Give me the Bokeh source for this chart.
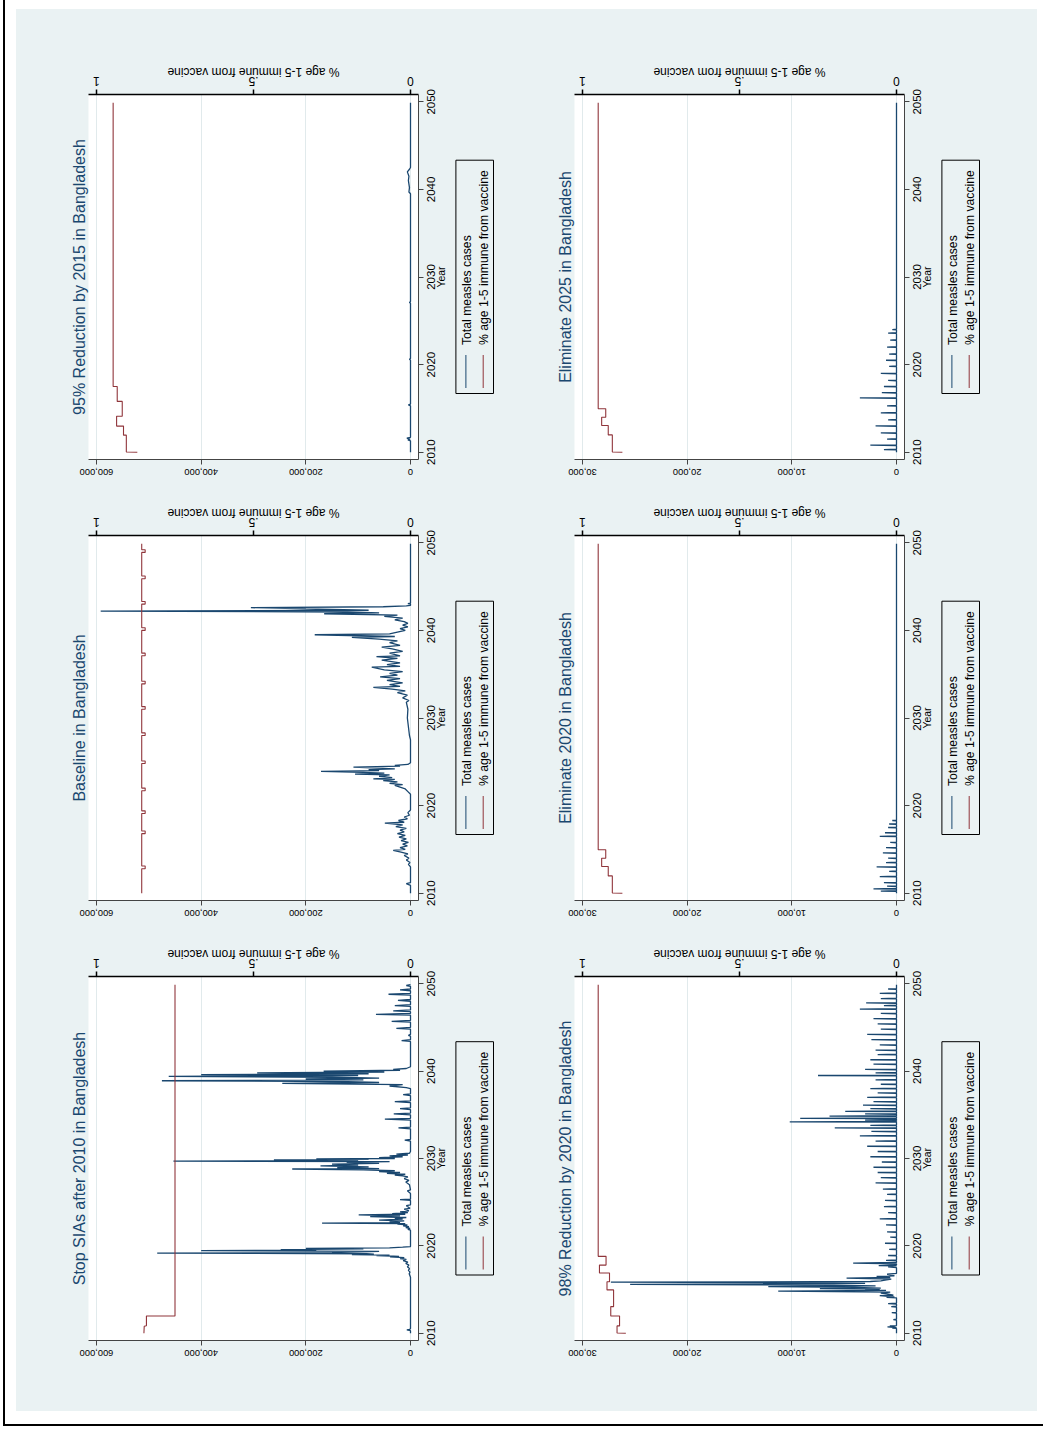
from math import pi
from bokeh.plotting import figure
from bokeh.models import Range1d, LinearAxis, FixedTicker, Spacer
from bokeh.layouts import row, column
from bokeh.core.properties import value
from bokeh.embed import file_html
from bokeh.resources import INLINE

FONT = "Liberation Sans"
BLUE = "#1A476F"
RED = "#90353B"
BG = "#EAF2F3"
GRID = "#E1EAEC"
AXC = "#444444"

YEAR_TICKS = [2010, 2020, 2030, 2040, 2050]
CASE_TICKS_BIG = [0, 200000, 400000, 600000]
CASE_TICKS_SMALL = [0, 10000, 20000, 30000]
IMM_TICKS = [0, 0.5, 1]
IMM_TICK_TEXT = ["0", ".5", "1"]
IMM_TITLE = "% age 1-5 immune from vaccine"
YEAR_TITLE = "Year"
LEGEND_LABELS = ["Total measles cases", "% age 1-5 immune from vaccine"]

# ---------------- Stop SIAs after 2010 ----------------
stop_yr = [2010.0, 2010.3, 2010.38, 2010.45, 2010.55, 2016.4, 2016.8, 2017.0, 2017.2, 2017.4, 2017.6, 2017.8,
           2018.0, 2018.15, 2018.3, 2018.45, 2018.55, 2018.65, 2018.75, 2018.8, 2018.9, 2018.95, 2019.0, 2019.05,
           2019.1, 2019.18, 2019.22, 2019.3, 2019.38, 2019.45, 2019.5, 2019.58, 2019.65, 2019.72, 2019.78,
           2019.85, 2019.92, 2021.8, 2021.9, 2022.0, 2022.1, 2022.2, 2022.3, 2022.4, 2022.5, 2022.55, 2022.6,
           2022.65, 2022.75, 2022.85, 2022.95, 2023.05, 2023.15, 2023.25, 2023.35, 2023.45, 2023.55, 2023.62,
           2023.7, 2023.8, 2023.9, 2024.0, 2024.2, 2024.3, 2024.6, 2024.7, 2025.2, 2025.3, 2025.35, 2026.0,
           2026.3, 2026.4, 2027.0, 2027.3, 2027.5, 2027.7, 2027.9, 2028.0, 2028.1, 2028.2, 2028.3, 2028.4,
           2028.5, 2028.6, 2028.7, 2028.8, 2028.85, 2028.95, 2029.05, 2029.15, 2029.25, 2029.35, 2029.45,
           2029.55, 2029.65, 2029.7, 2029.75, 2029.85, 2029.9, 2029.95, 2030.0, 2030.1, 2030.2, 2030.3, 2030.4,
           2030.5, 2030.6, 2030.8, 2032.0, 2032.1, 2032.2, 2033.4, 2033.5, 2033.6, 2034.4, 2034.5, 2034.6,
           2035.0, 2035.1, 2035.2, 2035.6, 2035.7, 2035.8, 2036.4, 2036.5, 2036.6, 2037.2, 2037.3, 2037.4,
           2038.0, 2038.1, 2038.3, 2038.45, 2038.6, 2038.7, 2038.8, 2038.9, 2039.0, 2039.1, 2039.2, 2039.3,
           2039.4, 2039.5, 2039.6, 2039.7, 2039.8, 2039.9, 2040.0, 2040.1, 2040.2, 2040.3, 2040.5, 2043.4,
           2043.5, 2043.6, 2044.0, 2044.1, 2044.2, 2044.8, 2044.9, 2045.0, 2045.6, 2045.7, 2045.8, 2046.4,
           2046.5, 2046.6, 2046.8, 2046.9, 2047.0, 2047.4, 2047.5, 2047.6, 2048.0, 2048.1, 2048.2, 2048.7,
           2048.8, 2048.9, 2049.2, 2049.3, 2049.4, 2049.7, 2049.8, 2049.9]
stop_cases = [0, 0, 7000, 1500, 0, 0, 2500, 1000, 4000, 2000, 6000, 3000,
              9000, 5000, 14000, 8000, 20000, 12000, 39000, 22000, 65000, 40000, 112000, 70000,
              84000, 484000, 150000, 115000, 60000, 400000, 180000, 248000, 90000, 200000, 40000,
              15000, 0, 0, 5000, 1000, 9000, 3000, 14000, 6000, 25000, 10000, 169000,
              20000, 40000, 12000, 60000, 15000, 30000, 8000, 77000, 20000, 99000, 10000,
              35000, 5000, 20000, 3000, 12000, 1000, 8000, 0, 0, 20000, 0, 0,
              6000, 0, 2000, 9000, 3000, 12000, 5000, 15000, 30000, 10000, 45000, 20000,
              60000, 30000, 90000, 226000, 60000, 140000, 80000, 172000, 100000, 150000, 60000,
              122000, 40000, 453000, 100000, 261000, 80000, 180000, 30000, 60000, 15000, 40000, 5000,
              27000, 2000, 0, 0, 11000, 0, 0, 23000, 0, 0, 49000, 0,
              0, 32000, 0, 0, 20000, 0, 0, 30000, 0, 0, 14000, 0,
              0, 8000, 40000, 15000, 245000, 60000, 120000, 475000, 90000, 200000, 60000, 150000,
              462000, 100000, 400000, 80000, 293000, 50000, 166000, 20000, 33000, 8000, 0, 0,
              17000, 0, 0, 4000, 0, 0, 27000, 0, 0, 36000, 0, 0,
              66000, 0, 0, 33000, 0, 0, 30000, 0, 0, 24000, 0, 0,
              42000, 0, 0, 20000, 0, 0, 8000, 0]
stop_imm_yr = [2010.0, 2010.8, 2010.85, 2011.98, 2011.98, 2049.9]
stop_imm = [0.849, 0.848, 0.841, 0.841, 0.750, 0.750]

# ---------------- Baseline ----------------
base_yr = [2010.0, 2010.9, 2011.1, 2011.2, 2013.0, 2013.3, 2013.5, 2013.8, 2014.0, 2014.3, 2014.5, 2014.7,
           2014.9, 2015.0, 2015.2, 2015.4, 2015.6, 2015.8, 2016.0, 2016.2, 2016.4, 2016.6, 2016.8, 2017.0,
           2017.2, 2017.4, 2017.6, 2017.8, 2018.0, 2018.1, 2018.3, 2018.5, 2018.7, 2018.9, 2019.2, 2019.5,
           2021.3, 2021.6, 2021.9, 2022.1, 2022.3, 2022.4, 2022.55, 2022.7, 2022.85, 2023.0, 2023.05, 2023.2,
           2023.35, 2023.5, 2023.6, 2023.7, 2023.8, 2023.9, 2024.0, 2024.1, 2024.2, 2024.4, 2024.5, 2024.6,
           2024.7, 2024.9, 2027.5, 2028.0, 2029.0, 2030.0, 2031.0, 2031.8, 2032.0, 2032.3, 2032.6, 2032.9,
           2033.1, 2033.3, 2033.5, 2033.6, 2033.8, 2034.0, 2034.3, 2034.5, 2034.7, 2034.9, 2035.1, 2035.3,
           2035.5, 2035.8, 2035.9, 2036.1, 2036.3, 2036.6, 2036.8, 2037.0, 2037.1, 2037.4, 2037.6, 2037.9,
           2038.1, 2038.3, 2038.6, 2038.8, 2039.0, 2039.2, 2039.3, 2039.5, 2039.6, 2039.8, 2040.0, 2040.2,
           2040.4, 2040.6, 2040.8, 2041.0, 2041.2, 2041.4, 2041.6, 2041.75, 2041.9, 2042.0, 2042.1, 2042.2,
           2042.3, 2042.45, 2042.6, 2042.7, 2042.8, 2042.85, 2043.0, 2043.05, 2043.1, 2049.9]
base_cases = [0, 0, 8000, 0, 0, 4000, 1000, 8000, 3000, 12000, 5000, 18000,
              33000, 10000, 20000, 6000, 15000, 4000, 18000, 8000, 22000, 10000, 25000, 12000,
              20000, 8000, 28000, 15000, 49000, 12000, 23000, 6000, 12000, 2000, 5000, 0,
              0, 5000, 10000, 20000, 30000, 15000, 40000, 25000, 52000, 30000, 71000, 35000,
              60000, 40000, 106000, 50000, 90000, 171000, 60000, 80000, 30000, 109000, 20000, 30000,
              5000, 0, 0, 2000, 4000, 6000, 5000, 8000, 3000, 15000, 6000, 25000,
              10000, 35000, 71000, 20000, 40000, 15000, 45000, 20000, 58000, 25000, 40000, 15000,
              50000, 74000, 20000, 45000, 20000, 55000, 25000, 65000, 20000, 40000, 15000, 35000,
              55000, 20000, 40000, 25000, 60000, 112000, 30000, 183000, 40000, 25000, 10000, 20000,
              5000, 15000, 5000, 12000, 30000, 15000, 50000, 25000, 165000, 60000, 120000, 592000,
              80000, 200000, 305000, 52000, 8000, 0, 0, 5000, 0, 0]
base_imm_yr = [2010.0, 2012.8, 2012.8, 2013.1, 2013.1, 2016.8, 2016.8, 2017.1, 2017.1, 2019.1, 2019.1,
               2019.4, 2019.4, 2021.7, 2021.7, 2022.0, 2022.0, 2024.8, 2024.8, 2025.1, 2025.1, 2028.0,
               2028.0, 2028.3, 2028.3, 2031.0, 2031.0, 2031.3, 2031.3, 2033.9, 2033.9, 2034.2, 2034.2,
               2037.1, 2037.1, 2037.4, 2037.4, 2040.0, 2040.0, 2040.3, 2040.3, 2043.0, 2043.0, 2043.3,
               2043.3, 2045.9, 2045.9, 2046.2, 2046.2, 2048.9, 2048.9, 2049.2, 2049.2, 2049.9]
base_imm = [0.856, 0.856, 0.845, 0.845, 0.856, 0.856, 0.845, 0.845, 0.856, 0.856, 0.845,
            0.845, 0.856, 0.856, 0.845, 0.845, 0.856, 0.856, 0.845, 0.845, 0.856, 0.856,
            0.845, 0.845, 0.856, 0.856, 0.845, 0.845, 0.856, 0.856, 0.845, 0.845, 0.856,
            0.856, 0.845, 0.845, 0.856, 0.856, 0.845, 0.845, 0.856, 0.856, 0.845, 0.845,
            0.856, 0.856, 0.845, 0.845, 0.856, 0.856, 0.845, 0.845, 0.856, 0.856]

# ---------------- 95% Reduction by 2015 ----------------
r95_yr = [2010.0, 2011.3, 2011.4, 2011.5, 2011.6, 2011.7, 2015.3, 2015.4, 2015.5, 2020.5, 2020.6, 2020.7,
          2027.0, 2027.1, 2027.2, 2039.5, 2039.7, 2040.2, 2041.0, 2041.5, 2042.0, 2042.3, 2042.5, 2049.9]
r95_cases = [0, 0, 5000, 1000, 7000, 0, 0, 4000, 0, 0, 2000, 0,
             0, 2000, 0, 0, 3000, 2000, 4000, 3000, 6000, 2000, 0, 0]
r95_imm_yr = [2010.0, 2010.02, 2011.95, 2011.95, 2012.98, 2012.98, 2014.1, 2014.1, 2015.8, 2015.8,
              2017.5, 2017.5, 2049.9]
r95_imm = [0.870, 0.905, 0.905, 0.914, 0.914, 0.936, 0.936, 0.918, 0.918, 0.934, 0.934, 0.947, 0.947]

# ---------------- 98% Reduction by 2020 ----------------
r98_yr = [2010.0, 2010.55, 2010.6, 2010.65, 2010.72, 2010.77, 2010.83, 2010.88, 2011.5, 2011.55, 2011.6,
          2012.3, 2012.35, 2012.4, 2013.0, 2013.05, 2013.1, 2013.35, 2013.4, 2013.45,
          2014.05, 2014.1, 2014.15, 2014.3, 2014.35, 2014.5, 2014.6, 2014.7, 2014.81, 2014.9, 2014.97,
          2015.04, 2015.1, 2015.17, 2015.25, 2015.34, 2015.42, 2015.5, 2015.6, 2015.7, 2015.77, 2015.84,
          2015.92, 2016.0, 2016.1, 2016.2, 2016.3, 2016.38, 2016.5, 2016.58, 2016.75, 2016.85,
          2017.5, 2017.6, 2017.7, 2017.75, 2017.82, 2017.95, 2018.02, 2018.1, 2018.3, 2018.35, 2018.4,
          2018.85, 2018.9, 2018.95,
          2019.56, 2019.6, 2019.64, 2020.26, 2020.3, 2020.34, 2020.96, 2021.0, 2021.04, 2021.56, 2021.6, 2021.64,
          2022.36, 2022.4, 2022.44, 2023.06, 2023.1, 2023.14, 2023.76, 2023.8, 2023.84, 2024.46, 2024.5, 2024.54,
          2025.16, 2025.2, 2025.24, 2025.86, 2025.9, 2025.94, 2026.46, 2026.5, 2026.54, 2027.16, 2027.2, 2027.24,
          2027.76, 2027.8, 2027.84, 2028.36, 2028.4, 2028.44, 2028.96, 2029.0, 2029.04, 2029.56, 2029.6, 2029.64,
          2030.16, 2030.2, 2030.24, 2030.76, 2030.8, 2030.84, 2031.36, 2031.4, 2031.44, 2031.96, 2032.0, 2032.04,
          2032.56, 2032.6, 2032.64, 2033.06, 2033.1, 2033.14, 2033.46, 2033.5, 2033.54, 2033.76, 2033.8, 2033.84,
          2034.16, 2034.2, 2034.24, 2034.36, 2034.4, 2034.44, 2034.56, 2034.6, 2034.64, 2034.81, 2034.85, 2034.89,
          2035.06, 2035.1, 2035.14, 2035.36, 2035.4, 2035.44, 2035.66, 2035.7, 2035.74, 2036.06, 2036.1, 2036.14,
          2036.46, 2036.5, 2036.54, 2036.96, 2037.0, 2037.04, 2037.46, 2037.5, 2037.54, 2037.96, 2038.0, 2038.04,
          2038.46, 2038.5, 2038.54, 2038.96, 2039.0, 2039.04, 2039.46, 2039.5, 2039.54, 2039.76, 2039.8, 2039.84,
          2040.16, 2040.2, 2040.24, 2040.76, 2040.8, 2040.84, 2041.26, 2041.3, 2041.34, 2041.86, 2041.9, 2041.94,
          2042.36, 2042.4, 2042.44, 2042.96, 2043.0, 2043.04, 2043.56, 2043.6, 2043.64, 2044.16, 2044.2, 2044.24,
          2044.76, 2044.8, 2044.84, 2045.36, 2045.4, 2045.44, 2045.96, 2046.0, 2046.04, 2046.56, 2046.6, 2046.64,
          2047.06, 2047.1, 2047.14, 2047.46, 2047.5, 2047.54, 2047.76, 2047.8, 2047.84, 2048.26, 2048.3, 2048.34,
          2048.86, 2048.9, 2048.94, 2049.36, 2049.4, 2049.44, 2049.9]
r98_cases = [0, 0, 400, 0, 860, 100, 640, 0, 0, 300, 0,
             0, 450, 0, 0, 500, 0, 0, 800, 0,
             0, 950, 200, 1600, 300, 900, 1500, 600, 11300, 1000, 3000,
             1600, 7320, 1500, 4000, 12250, 2000, 6000, 25450, 3000, 9000, 27290,
             2500, 1500, 950, 500, 4770, 600, 1900, 200, 900, 0,
             0, 800, 0, 1700, 0, 0, 4140, 0, 0, 1000, 0,
             0, 800, 0,
             0, 700, 0, 0, 1100, 0, 0, 600, 0, 0, 900, 0,
             0, 1000, 0, 0, 1600, 0, 0, 800, 0, 0, 1200, 0,
             0, 1100, 0, 0, 900, 0, 0, 1300, 0, 0, 2000, 0,
             0, 1500, 0, 0, 1800, 0, 0, 2200, 0, 0, 1400, 0,
             0, 2500, 0, 0, 1800, 0, 0, 2800, 0, 0, 2000, 0,
             0, 3500, 0, 0, 2400, 0, 0, 5900, 0, 0, 2500, 0,
             0, 10200, 0, 0, 3000, 0, 0, 9200, 0, 0, 6400, 0,
             0, 3000, 0, 0, 4900, 0, 0, 2500, 0, 0, 3200, 0,
             0, 2200, 0, 0, 2800, 0, 0, 1800, 0, 0, 2500, 0,
             0, 1500, 0, 0, 2000, 0, 0, 7500, 0, 0, 2000, 0,
             0, 3000, 0, 0, 2200, 0, 0, 2500, 0, 0, 1800, 0,
             0, 2000, 0, 0, 1600, 0, 0, 2400, 0, 0, 2800, 0,
             0, 1500, 0, 0, 1800, 0, 0, 2200, 0, 0, 1500, 0,
             0, 3500, 0, 0, 1200, 0, 0, 2900, 0, 0, 1500, 0,
             0, 1600, 0, 0, 800, 0, 0]
r98_imm_yr = [2010.0, 2010.03, 2010.84, 2010.84, 2011.98, 2011.98, 2013.05, 2013.05, 2014.96, 2014.96,
              2015.9, 2015.9, 2016.9, 2016.9, 2017.8, 2017.8, 2018.8, 2018.8, 2049.9]
r98_imm = [0.862, 0.890, 0.890, 0.882, 0.882, 0.910, 0.910, 0.901, 0.901, 0.922, 0.922, 0.914, 0.914,
           0.946, 0.946, 0.925, 0.925, 0.950, 0.950]

# ---------------- Eliminate 2020 ----------------
e20_yr = [2010.0, 2010.21, 2010.25, 2010.29, 2010.46, 2010.5, 2010.54, 2010.76, 2010.8, 2010.84,
          2011.16, 2011.2, 2011.24, 2011.86, 2011.9, 2011.94, 2012.46, 2012.5, 2012.54, 2012.96, 2013.0, 2013.04,
          2013.46, 2013.5, 2013.54, 2013.96, 2014.0, 2014.04, 2014.56, 2014.6, 2014.64, 2015.16, 2015.2, 2015.24,
          2015.76, 2015.8, 2015.84, 2016.46, 2016.5, 2016.54, 2016.86, 2016.9, 2016.94, 2017.46, 2017.5, 2017.54,
          2017.86, 2017.9, 2017.94, 2018.26, 2018.3, 2018.34, 2049.9]
e20_cases = [0, 0, 1500, 0, 0, 2200, 0, 0, 900, 0,
             0, 1200, 0, 0, 1600, 0, 0, 700, 0, 0, 1900, 0,
             0, 1000, 0, 0, 800, 0, 0, 1300, 0, 0, 1000, 0,
             0, 600, 0, 0, 1600, 0, 0, 1100, 0, 0, 800, 0,
             0, 700, 0, 0, 400, 0, 0]
e20_imm_yr = [2010.0, 2010.03, 2011.98, 2011.98, 2013.05, 2013.05, 2014.0, 2014.0, 2014.96, 2014.96,
              2049.9]
e20_imm = [0.873, 0.905, 0.905, 0.918, 0.918, 0.939, 0.939, 0.926, 0.926, 0.950, 0.950]

# ---------------- Eliminate 2025 ----------------
e25_yr = [2010.0, 2010.26, 2010.3, 2010.34, 2010.76, 2010.8, 2010.84, 2011.46, 2011.5, 2011.54,
          2012.16, 2012.2, 2012.24, 2012.96, 2013.0, 2013.04, 2013.66, 2013.7, 2013.74, 2014.46, 2014.5, 2014.54,
          2015.26, 2015.3, 2015.34, 2016.16, 2016.2, 2016.24, 2016.76, 2016.8, 2016.84, 2017.46, 2017.5, 2017.54,
          2018.16, 2018.2, 2018.24, 2018.96, 2019.0, 2019.04, 2019.76, 2019.8, 2019.84, 2020.46, 2020.5, 2020.54,
          2021.16, 2021.2, 2021.24, 2021.96, 2022.0, 2022.04, 2022.76, 2022.8, 2022.84, 2023.56, 2023.6, 2023.64,
          2023.96, 2024.0, 2024.04, 2049.9]
e25_cases = [0, 0, 1200, 0, 0, 2500, 0, 0, 900, 0,
             0, 1500, 0, 0, 2000, 0, 0, 800, 0, 0, 1500, 0,
             0, 900, 0, 0, 3500, 0, 0, 1400, 0, 0, 1200, 0,
             0, 800, 0, 0, 1500, 0, 0, 700, 0, 0, 1000, 0,
             0, 700, 0, 0, 900, 0, 0, 600, 0, 0, 800, 0,
             0, 400, 0, 0]
e25_imm_yr = [2010.0, 2010.03, 2011.98, 2011.98, 2013.05, 2013.05, 2014.0, 2014.0, 2014.96, 2014.96,
              2049.9]
e25_imm = [0.873, 0.905, 0.905, 0.918, 0.918, 0.939, 0.939, 0.926, 0.926, 0.950, 0.950]

AX = 6          # room kept on the plot for each axis' tick marks
YLO, YHI = 2009.17, 2050.83


def quiet_axis(ax, color, width):
    """Axis line and ticks drawn by Bokeh; the turned labels are drawn in the strips."""
    ax.axis_line_color = color
    ax.axis_line_width = width
    ax.major_tick_line_color = color
    ax.major_tick_line_width = width
    ax.major_tick_out = 5
    ax.major_tick_in = 0
    ax.minor_tick_line_color = None
    ax.major_label_text_color = None
    ax.major_label_text_font_size = "1px"
    ax.major_label_standoff = 0


def strip(width, height, x_range, y_range):
    f = figure(width=width, height=height, x_range=x_range, y_range=y_range,
               output_backend="svg", toolbar_location=None,
               x_axis_location=None, y_axis_location=None, min_border=0,
               min_border_left=0, min_border_right=0, min_border_top=0, min_border_bottom=0,
               background_fill_color=BG, border_fill_color=BG, outline_line_color=None,
               frame_align=False)
    f.xgrid.grid_line_color = None
    f.ygrid.grid_line_color = None
    return f


def txt(f, xs, ys, texts, angle, size, align="center", color="black"):
    f.text(x=xs, y=ys, text=texts, angle=angle, text_align=align, text_baseline="middle",
           text_font=value(FONT), text_font_size=value(size), text_color=color)


def make_panel(title, cyr, cval, iyr, ival, cticks, bl, fw, br, bt, fh, bb):
    cmax = cticks[-1]
    cpad = cmax * 8.0 / 314.0
    ipad = 8.0 / 314.0
    u = (cmax + 2 * cpad) / fw     # cases per pixel
    ui = (1 + 2 * ipad) / fw       # immunity share per pixel
    v = (YHI - YLO) / fh           # years per pixel
    W = bl + fw + AX

    main = figure(width=W, height=AX + fh + AX,
                  x_range=Range1d(cmax + cpad, -cpad), y_range=Range1d(YLO, YHI),
                  output_backend="svg", toolbar_location=None,
                  x_axis_location=None, y_axis_location=None,
                  min_border_left=bl, min_border_right=AX, min_border_top=AX, min_border_bottom=AX,
                  title=title, title_location="left", frame_align=False,
                  background_fill_color="white", border_fill_color=BG, outline_line_color=None)
    main.extra_x_ranges = {"imm": Range1d(1 + ipad, -ipad)}
    main.title.text_font = FONT
    main.title.text_font_size = "16px"
    main.title.text_font_style = "normal"
    main.title.text_color = BLUE
    main.title.align = "center"
    main.title.standoff = 1
    main.xgrid.ticker = FixedTicker(ticks=cticks)
    main.xgrid.grid_line_color = GRID
    main.ygrid.grid_line_color = None

    ca = LinearAxis(ticker=FixedTicker(ticks=cticks))
    quiet_axis(ca, AXC, 1)
    main.add_layout(ca, "below")
    ia = LinearAxis(x_range_name="imm", ticker=FixedTicker(ticks=IMM_TICKS))
    quiet_axis(ia, "black", 1.5)
    main.add_layout(ia, "above")
    ya = LinearAxis(ticker=FixedTicker(ticks=YEAR_TICKS))
    quiet_axis(ya, AXC, 1)
    main.add_layout(ya, "right")

    main.line(x=cval, y=cyr, line_color=BLUE, line_width=1.3)
    main.line(x=ival, y=iyr, x_range_name="imm", line_color=RED, line_width=1.1)

    # strip above: immunity tick labels and title (upside down)
    hT = bt - AX
    ftop = strip(W, hT, Range1d(1 + ipad + bl * ui, -ipad - AX * ui), Range1d(0, hT))
    txt(ftop, IMM_TICKS, [13.4 - AX] * 3, IMM_TICK_TEXT, pi, "12px")
    txt(ftop, [0.5], [23.0 - AX], [IMM_TITLE], pi, "12px")

    # strip below: case tick labels (upside down)
    hB = bb - AX
    fbot = strip(W, hB, Range1d(cmax + cpad + bl * u, -cpad - AX * u), Range1d(0, hB))
    txt(fbot, cticks, [hB - (12.6 - AX)] * len(cticks), [f"{t:,}" for t in cticks], pi, "9.3px")

    # strip right: year labels, axis title and legend (reading upward)
    wR = br - AX
    fr = strip(wR, bt + fh + bb, Range1d(0, wR), Range1d(YLO - bb * v, YHI + bt * v))
    txt(fr, [12.5 - AX] * len(YEAR_TICKS), YEAR_TICKS, [str(t) for t in YEAR_TICKS], pi / 2, "11.5px")
    txt(fr, [22.7 - AX], [(YLO + YHI) / 2], [YEAR_TITLE], pi / 2, "10.5px")
    yc = (YLO + YHI) / 2
    fr.quad(left=[37.4 - AX], right=[75.0 - AX], top=[yc + 116.8 * v], bottom=[yc - 116.5 * v],
            fill_alpha=0, line_color="black", line_width=1)
    fr.segment(x0=[47.4 - AX, 64.7 - AX], y0=[yc - 78 * v] * 2, x1=[47.4 - AX, 64.7 - AX],
               y1=[yc - 111 * v] * 2, line_color=[BLUE, RED], line_width=1)
    txt(fr, [48.4 - AX, 65.5 - AX], [yc - 68 * v] * 2, LEGEND_LABELS, pi / 2, "12.2px", align="left")

    return row(column(ftop, main, fbot), fr)


p95 = make_panel("95% Reduction by 2015 in Bangladesh", r95_yr, r95_cases, r95_imm_yr, r95_imm,
                 CASE_TICKS_BIG, 72, 330, 84, 85, 365, 30)
pe25 = make_panel("Eliminate 2025 in Bangladesh", e25_yr, e25_cases, e25_imm_yr, e25_imm,
                  CASE_TICKS_SMALL, 72, 330, 133, 85, 365, 30)
pbase = make_panel("Baseline in Bangladesh", base_yr, base_cases, base_imm_yr, base_imm,
                   CASE_TICKS_BIG, 72, 330, 84, 46, 365, 30)
pe20 = make_panel("Eliminate 2020 in Bangladesh", e20_yr, e20_cases, e20_imm_yr, e20_imm,
                  CASE_TICKS_SMALL, 72, 330, 133, 46, 365, 30)
pstop = make_panel("Stop SIAs after 2010 in Bangladesh", stop_yr, stop_cases, stop_imm_yr, stop_imm,
                   CASE_TICKS_BIG, 72, 330, 84, 46, 364, 71)
p98 = make_panel("98% Reduction by 2020 in Bangladesh", r98_yr, r98_cases, r98_imm_yr, r98_imm,
                 CASE_TICKS_SMALL, 72, 330, 133, 46, 364, 71)

grid = column(row(p95, pe25), row(pbase, pe20), row(pstop, p98), styles={"background-color": BG})

page = column(
    row(Spacer(width=3), Spacer(width=2, height=1424, styles={"background-color": "black"}),
        Spacer(width=11), column(Spacer(height=9), grid)),
    row(Spacer(width=3), Spacer(width=1040, height=2, styles={"background-color": "black"})),
)

open("out.html", "w").write(file_html(page, INLINE))
